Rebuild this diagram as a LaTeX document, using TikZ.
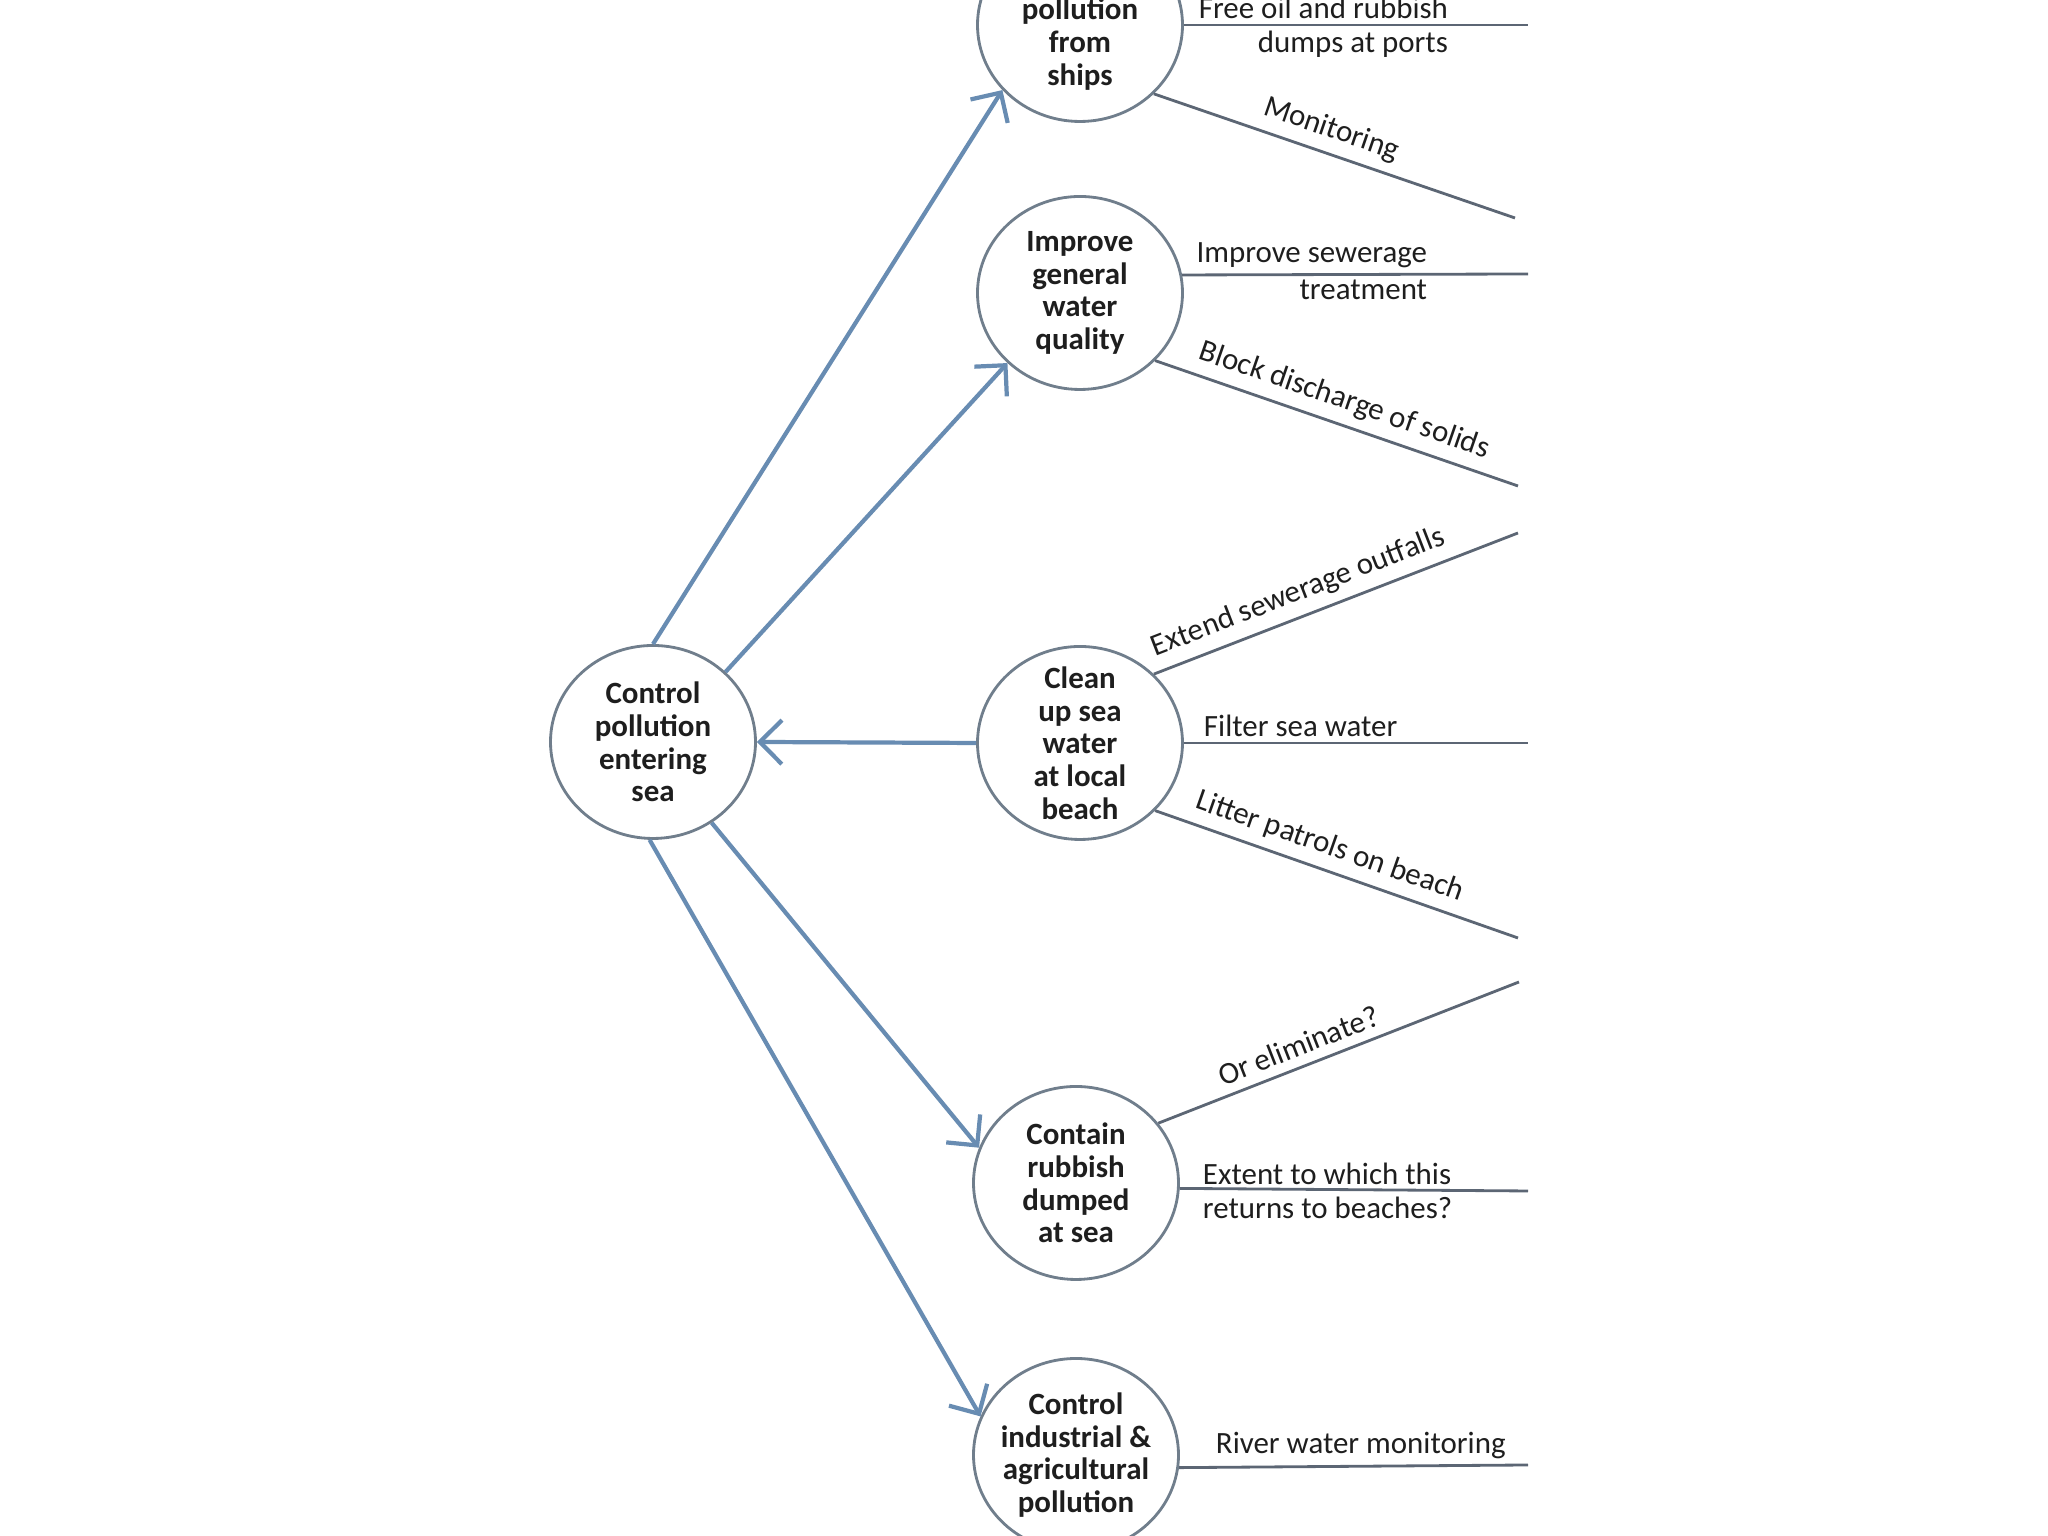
\documentclass[tikz,border=0pt]{standalone}
\usepackage{fontspec}
\setmainfont{Carlito}
\usetikzlibrary{arrows.meta,shapes.geometric}
\definecolor{ringgray}{RGB}{112,126,140}
\definecolor{arrowblue}{RGB}{104,140,178}
\definecolor{branchgray}{RGB}{92,102,116}
\definecolor{inkgray}{RGB}{30,30,30}
\tikzset{
	topic/.style={ellipse, draw=ringgray, line width=0.8pt, fill=white, minimum width=2.05cm, minimum height=1.93cm, inner sep=0pt},
	topictext/.style={align=center, font=\fontsize{8.8}{9.3}\selectfont\bfseries, text=inkgray, inner sep=0pt},
	feed/.style={draw=arrowblue, line width=1.2pt, -{Straight Barb[length=2.2mm, width=4.4mm, line width=1.2pt]}},
	branch/.style={draw=branchgray, line width=0.8pt},
	branchtext/.style={font=\fontsize{8.8}{9.3}\selectfont, text=inkgray, inner sep=1.5pt},
	slopetext/.style={branchtext, sloped, above, inner sep=2.6pt}
}

\begin{document}
\begin{tikzpicture}
	%%%%% START %%%%%
	\useasboundingbox (0, 0) rectangle (20.48, 15.36);
	
	% circles
	\node[topic] (root) at (6.53, 7.94) {};
	\node[topictext] (roottxt) at (root) {Control\\pollution\\entering\\sea};
	
	\node[topic] (ships) at (10.80, 15.11) {};
	\node[topictext] (shipstxt) at (10.80, 14.92) {pollution\\from\\ships};
	
	\node[topic] (quality) at (10.80, 12.43) {};
	\node[topictext] (qualitytxt) at (quality) {Improve\\general\\water\\quality};
	
	\node[topic] (beach) at (10.80, 7.93) {};
	\node[topictext] (beachtxt) at (beach) {Clean\\up sea\\water\\at local\\beach};
	
	\node[topic] (rubbish) at (10.76, 3.53) {};
	\node[topictext] (rubbishtxt) at (rubbish) {Contain\\rubbish\\dumped\\at sea};
	
	\node[topic] (industry) at (10.76, 0.81) {};
	\node[topictext] (industrytxt) at (industry) {Control\\industrial \&\\agricultural\\pollution};
	
	% arrows
	\draw[feed] (root.90) -- (ships.220);
	\draw[feed] (root.44) -- (quality.224);
	\draw[feed] (beach.west) -- (root.east);
	\draw[feed] (root.306) -- (rubbish.160);
	\draw[feed] (root.268) -- (industry.158);
	
	% branch ends
	\coordinate (shipsa) at (15.28, 15.11);
	\coordinate (shipsb) at (15.15, 13.18);
	\coordinate (qualitya) at (15.28, 12.62);
	\coordinate (qualityb) at (15.18, 10.50);
	\coordinate (beacha) at (15.18, 10.03);
	\coordinate (beachb) at (15.28, 7.93);
	\coordinate (beachc) at (15.18, 5.98);
	\coordinate (rubbisha) at (15.19, 5.54);
	\coordinate (rubbishb) at (15.28, 3.45);
	\coordinate (industrya) at (15.28, 0.71);
	
	% ships
	\draw[branch] (ships.east) -- (shipsa);
	\node[branchtext, anchor=south east] (freeoil) at ([xshift=-0.74cm]shipsa) {Free oil and rubbish};
	\node[branchtext, anchor=north east] (dumps) at ([xshift=-0.74cm]shipsa) {dumps at ports};
	\draw[branch] (ships.-43) -- (shipsb) node[slopetext, pos=0.47] (monitor) {Monitoring};
	
	% quality
	\draw[branch] (quality.10) -- (qualitya);
	\node[branchtext, anchor=south east] (sewer) at ([xshift=-0.95cm]qualitya) {Improve sewerage};
	\node[branchtext, anchor=north east] (treat) at ([xshift=-0.95cm]qualitya) {treatment};
	\draw[branch] (quality.-42) -- (qualityb) node[slopetext, pos=0.5] (solids) {Block discharge of solids};
	
	% beach
	\draw[branch] (beach.43) -- (beacha) node[slopetext, pos=0.42] (outfalls) {Extend sewerage outfalls};
	\draw[branch] (beach.east) -- (beachb);
	\node[branchtext, anchor=south west] (filter) at (11.98, 7.93) {Filter sea water};
	\draw[branch] (beach.-42) -- (beachc) node[slopetext, pos=0.46] (litter) {Litter patrols on beach};
	
	% rubbish
	\draw[branch] (rubbish.36) -- (rubbisha) node[slopetext, pos=0.41] (elim) {Or eliminate?};
	\draw[branch] (rubbish.-3) -- (rubbishb);
	\node[branchtext, anchor=south west] (extent) at (11.97, 3.45) {Extent to which this};
	\node[branchtext, anchor=north west] (returns) at (11.97, 3.45) {returns to beaches?};
	
	% industry
	\draw[branch] (industry.-7) -- (industrya);
	\node[branchtext, anchor=south west] (river) at (12.10, 0.71) {River water monitoring};
	%%%%% END %%%%%
\end{tikzpicture}
\end{document}
